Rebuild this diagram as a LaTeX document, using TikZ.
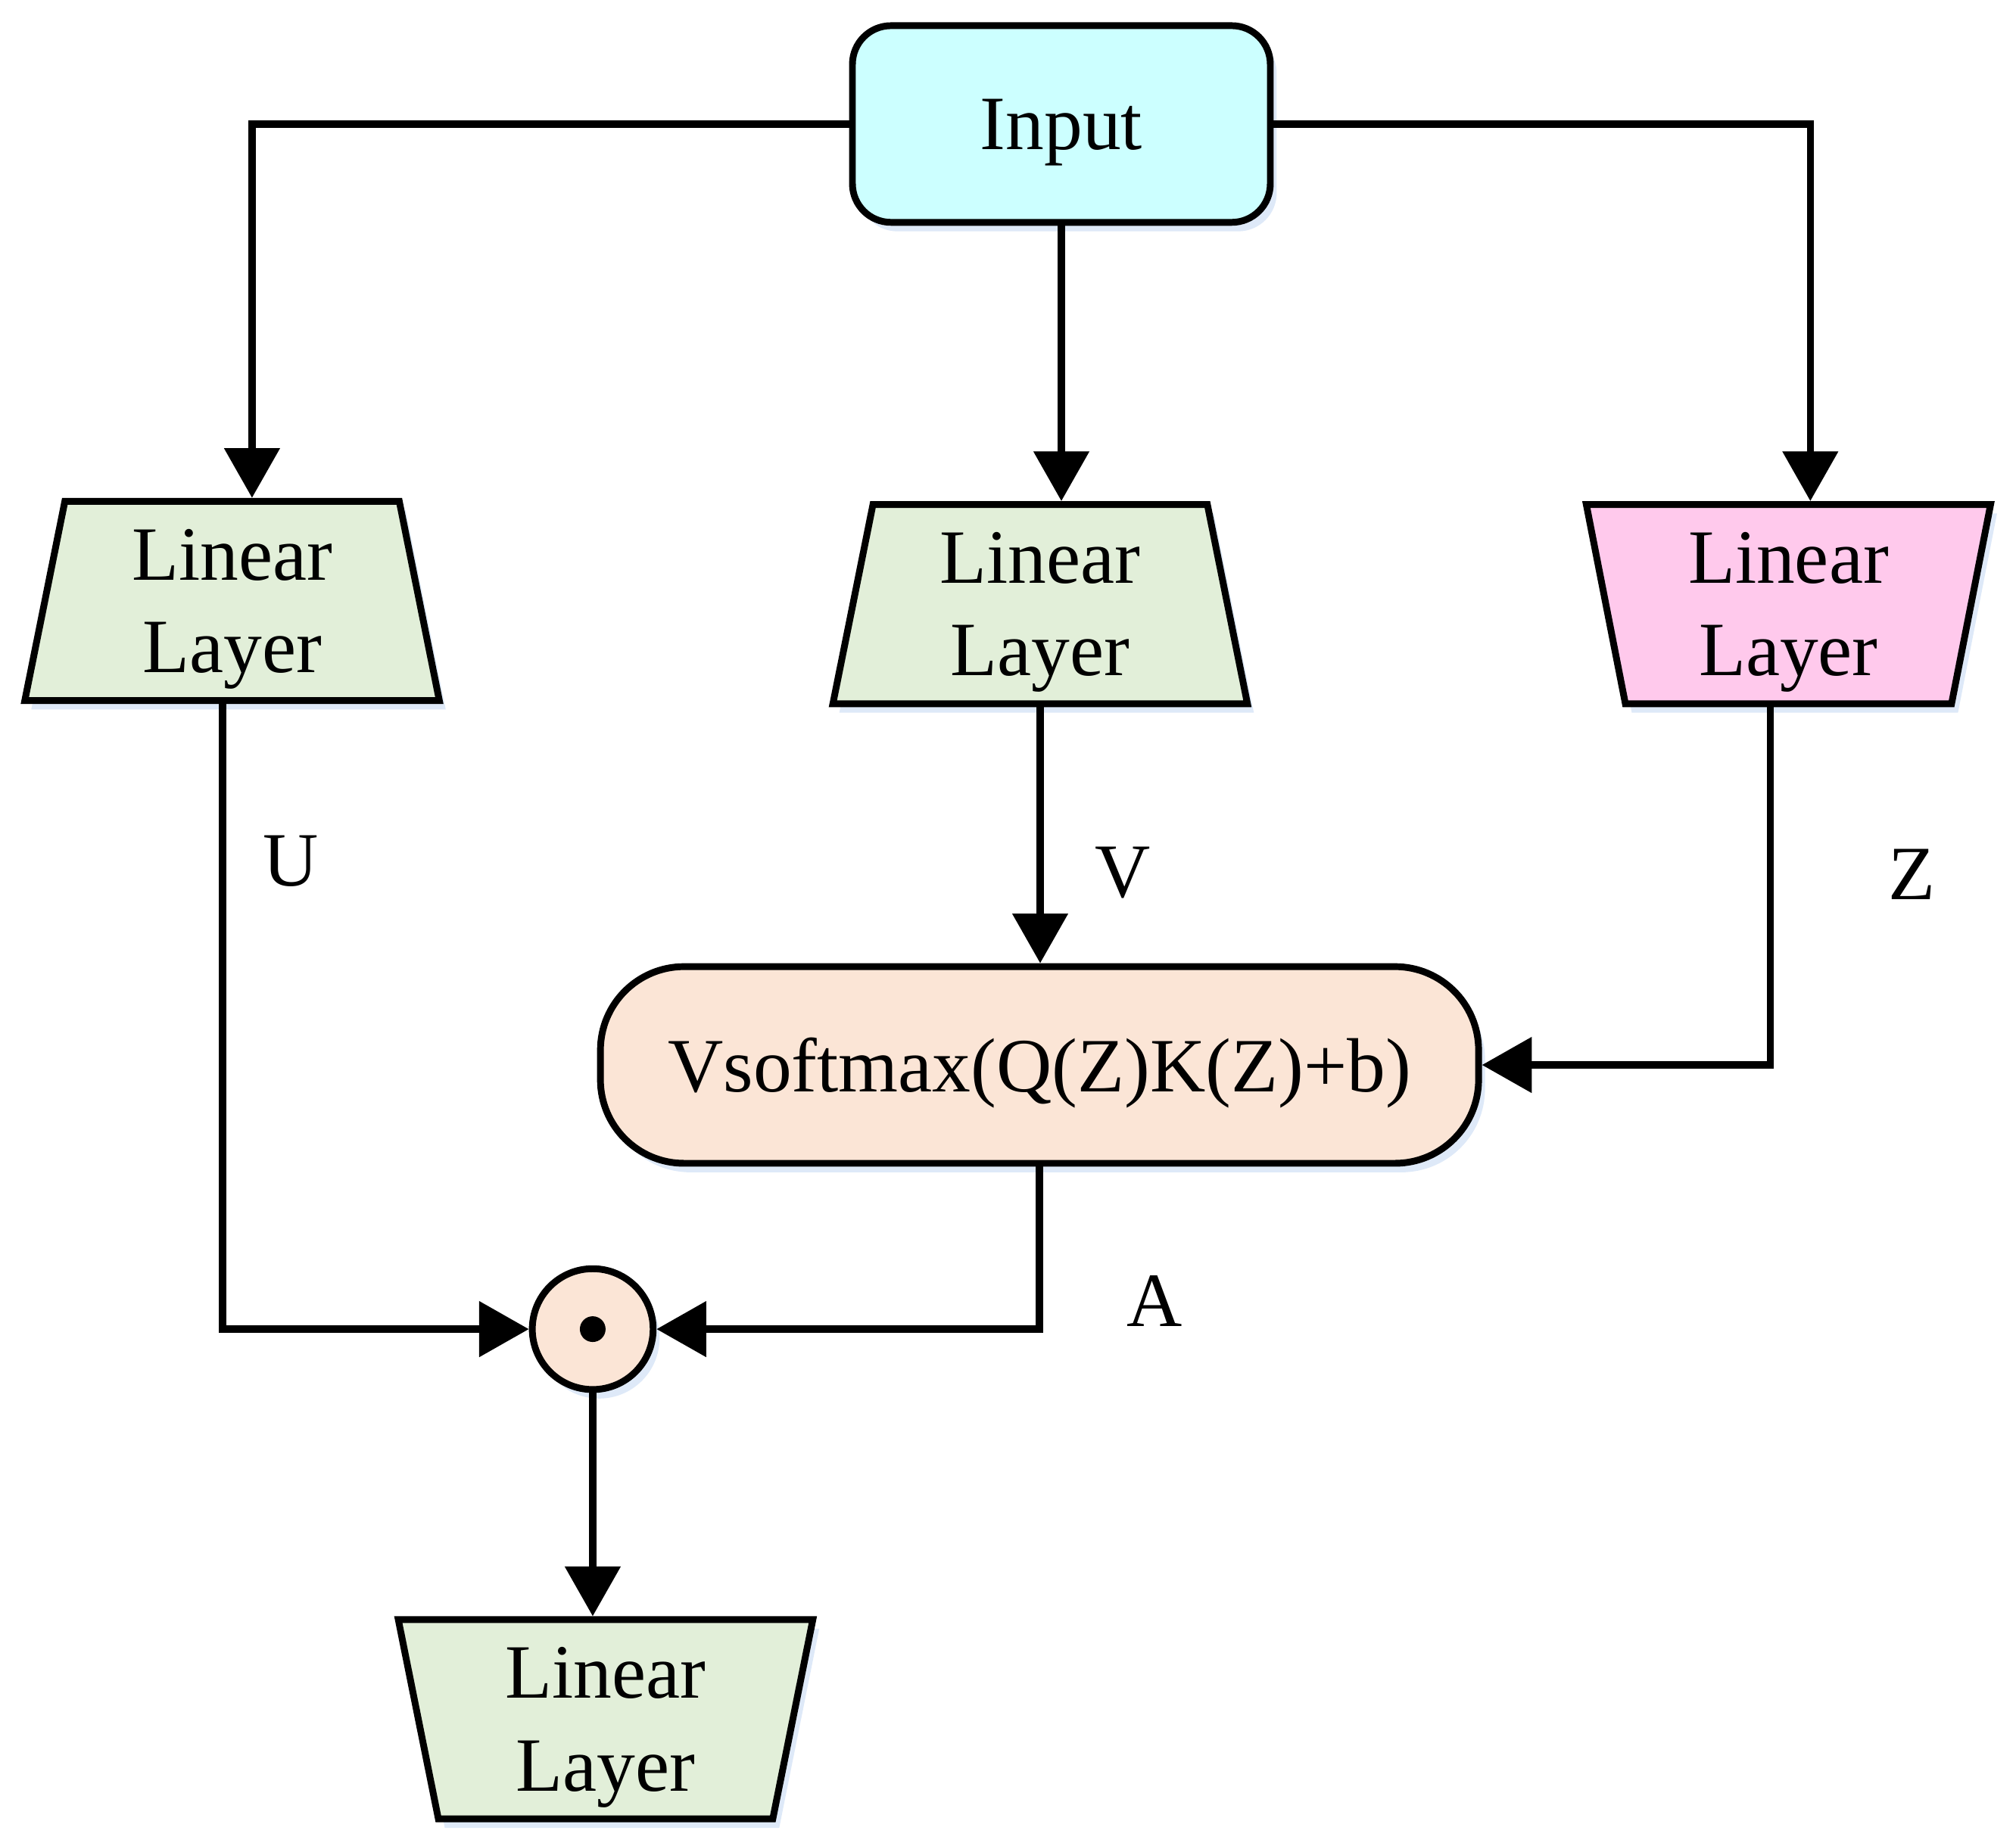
\documentclass[tikz,border=0pt]{standalone}
\usepackage{fontspec}
\setmainfont{Liberation Serif}
\usetikzlibrary{shapes.geometric,arrows.meta,shadows}

\definecolor{layergreen}{RGB}{226,239,217}
\definecolor{layerpink}{RGB}{255,201,236}
\definecolor{inputcyan}{RGB}{204,255,255}
\definecolor{attpeach}{RGB}{251,229,214}
\definecolor{shadowblue}{RGB}{214,228,246}

\tikzset{
  every node/.style={font=\fontsize{17}{20.5}\selectfont},
  softshadow/.style={drop shadow={shadow xshift=.05cm,shadow yshift=-.07cm,fill=shadowblue,opacity=.8}},
  layer/.style={draw,line width=1.5pt,shape=trapezium,trapezium stretches=true,
    trapezium left angle=80.5,trapezium right angle=80.5,
    minimum width=3.24cm,minimum height=1.55cm,inner sep=0pt,align=center,
    text depth=0pt,fill=layergreen,softshadow},
  flip/.style={trapezium left angle=99.5,trapezium right angle=99.5},
  conn/.style={line width=1.6pt,-{Triangle[length=11pt,width=12pt]}}
}

\begin{document}
\begin{tikzpicture}
  \useasboundingbox (0,0) rectangle (15.68,-14.36);

  \draw(8.255,-0.965) node[draw,line width=1.5pt,rounded corners=.3cm,fill=inputcyan,
    minimum width=3.25cm,minimum height=1.53cm,text depth=0pt,softshadow] (in) {Input};

  \draw(1.805,-4.675) node[layer] (ll) {Linear\\Layer};
  \draw(8.09,-4.70) node[layer] (ml) {Linear\\Layer};
  \draw(13.91,-4.70) node[layer,flip,minimum width=3.16cm,fill=layerpink] (rl) {Linear\\Layer};
  \draw(4.71,-13.375) node[layer,flip] (bl) {Linear\\Layer};

  \draw(8.085,-8.285) node[draw,line width=1.5pt,rounded corners=.65cm,fill=attpeach,
    minimum width=6.83cm,minimum height=1.53cm,text depth=0pt,softshadow] (att) {Vsoftmax(Q(Z)K(Z)+b)};

  \draw(4.61,-10.34) node[draw,shape=circle,line width=1.5pt,fill=attpeach,
    minimum size=.94cm,inner sep=0pt,softshadow] (dot) {};
  \fill (dot.center) circle (.1);

  % input to the three layers
  \draw[conn] (in.west) -| ([xshift=.155cm]ll.north);
  \draw[conn] (in.south) -- (in.south |- ml.north);
  \draw[conn] (in.east) -| ([xshift=.17cm]rl.north);

  % into the attention box
  \draw[conn] (ml.south) -- (ml.south |- att.north);
  \draw[conn] ([xshift=-.14cm]rl.south) |- (att.east);

  % product
  \draw[conn] ([xshift=-.075cm]ll.south) |- (dot.west);
  \draw[conn] (att.south) |- (dot.east);
  \draw[conn] (dot.south) -- (dot.south |- bl.north);

  \draw(2.26,-6.70) node (lu) {U};
  \draw(8.73,-6.79) node (lv) {V};
  \draw(14.87,-6.80) node (lz) {Z};
  \draw(8.98,-10.12) node (la) {A};
\end{tikzpicture}
\end{document}
